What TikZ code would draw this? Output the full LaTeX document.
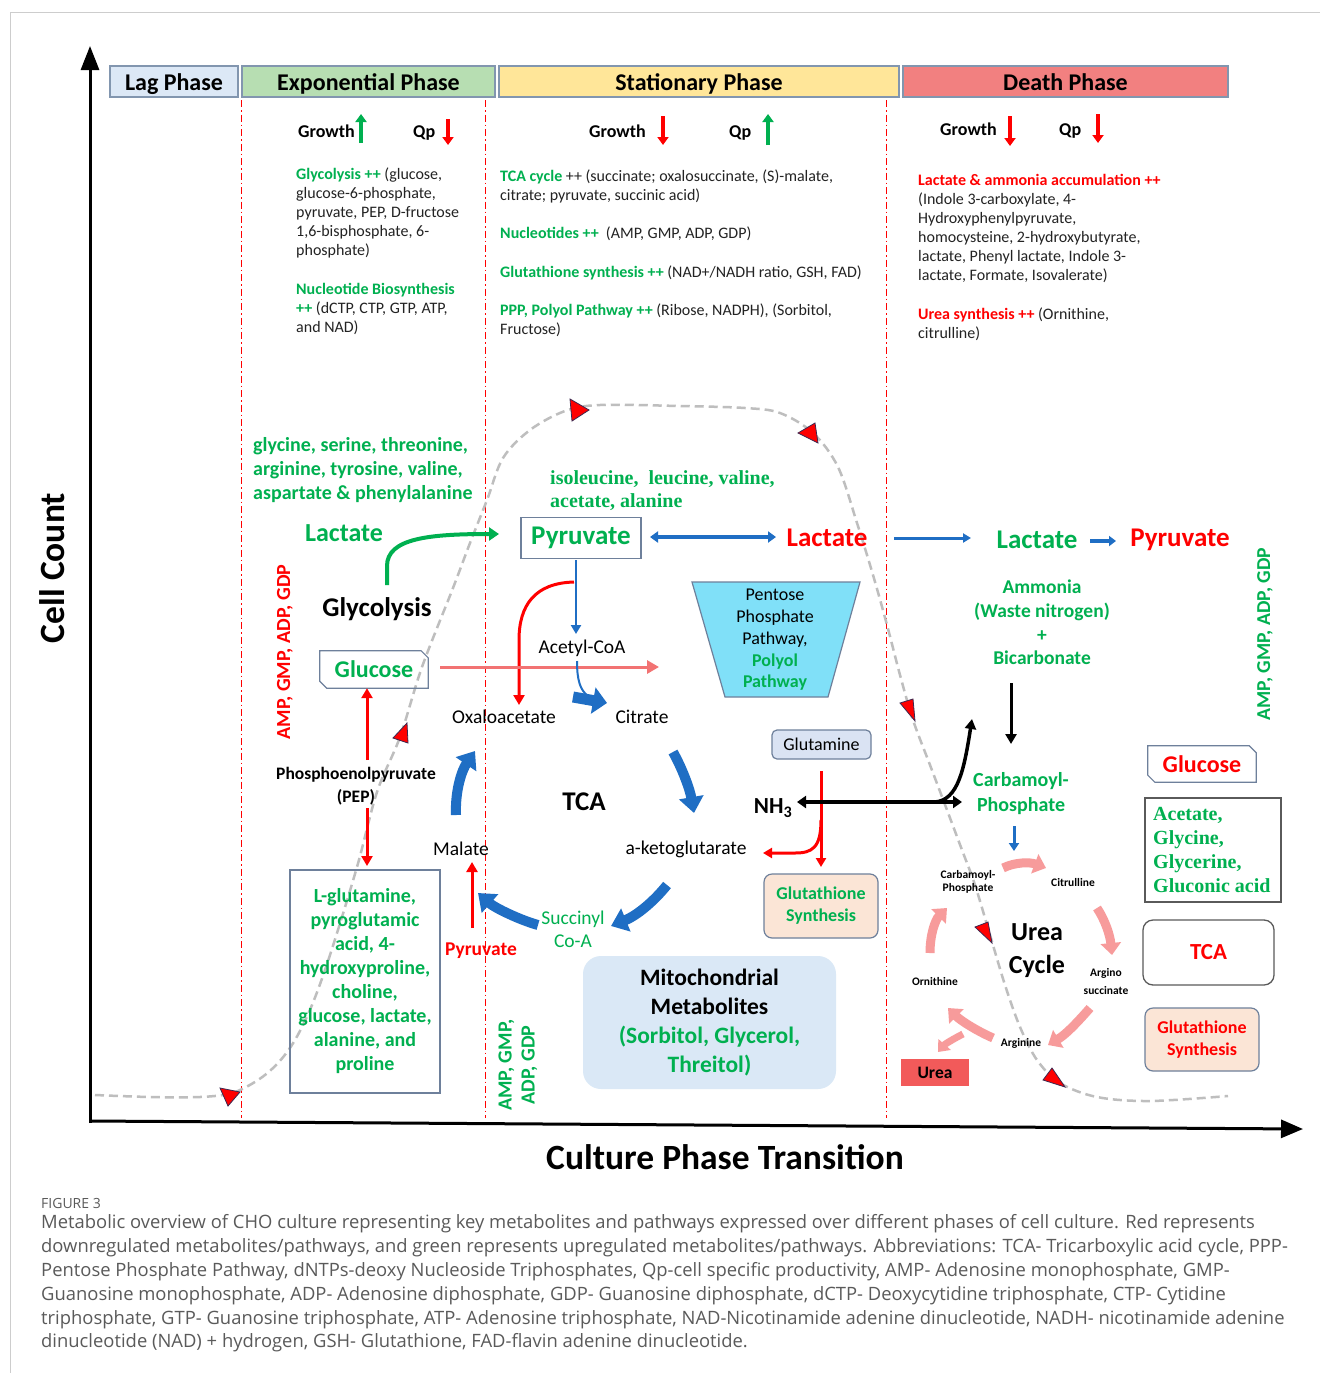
\documentclass[tikz,border=0pt]{standalone}
\usepackage{fontspec}
\setmainfont{Carlito}
\newfontfamily\capfont{Open Sans}
\newfontfamily\tmsfont{Liberation Serif}
\usetikzlibrary{arrows.meta,calc}
\definecolor{gr}{RGB}{0,176,80}
\definecolor{rd}{RGB}{255,0,0}
\definecolor{bl}{RGB}{31,110,196}
\definecolor{pk}{RGB}{247,155,155}
\definecolor{lrd}{RGB}{242,115,115}
\definecolor{dashc}{RGB}{190,190,190}
\definecolor{bbord}{RGB}{110,128,155}
\definecolor{hdrb}{RGB}{130,150,175}
\definecolor{lagc}{RGB}{220,232,246}
\definecolor{expc}{RGB}{183,222,178}
\definecolor{statc}{RGB}{255,230,153}
\definecolor{deathc}{RGB}{242,128,128}
\definecolor{peach}{RGB}{251,229,214}
\definecolor{mitoc}{RGB}{218,232,246}
\definecolor{pppc}{RGB}{128,224,248}
\definecolor{glutc}{RGB}{218,227,243}
\definecolor{ureac}{RGB}{242,90,90}
\definecolor{capc}{RGB}{90,90,90}
\definecolor{bodyc}{RGB}{35,35,35}
\definecolor{dg}{RGB}{90,90,90}
\definecolor{framec}{RGB}{205,205,205}
\definecolor{markb}{RGB}{60,40,80}
\newcommand{\fsz}[1]{\fontsize{#1}{#1}\selectfont}
\begin{document}
\begin{tikzpicture}[x=1pt,y=-1pt,
  txl/.style={inner sep=0pt,anchor=base west},
  txc/.style={inner sep=0pt,align=center},
  body/.style={txl,font=\fsz{16},text=bodyc},
  hdr/.style={draw=hdrb,line width=1.2pt,inner sep=0pt,minimum height=31pt,text height=19pt,text depth=2pt,font=\bfseries\fsz{24}},
  gro/.style={txl,font=\bfseries\fsz{18}},
  upg/.style={gr,line width=4pt,-{Triangle[length=8pt,width=11pt]}},
  dnr/.style={rd,line width=4pt,-{Triangle[length=8pt,width=11pt]}},
  phaseline/.style={rd,line width=1pt,dash pattern=on 7pt off 3pt on 1.5pt off 3pt},
  tcaarr/.style={bl,line width=10pt,-{Triangle[length=16pt,width=24pt]}},
  ucarr/.style={pk,line width=9pt,-{Triangle[length=12pt,width=20pt]}},
  redarr/.style={rd,line width=3pt,-{Triangle[length=10pt,width=11pt]}},
  mrk/.style={fill=rd,draw=markb,line width=0.8pt},
  boxb/.style={draw=bbord,line width=1.2pt},
  capt/.style={txl,font=\capfont\fsz{18.4},text=capc}
]
\useasboundingbox (0,0) rectangle (1320,1373);
\fill[white] (0,0) rectangle (1320,1373);
\draw[framec,line width=1pt] (10,1373) -- (10,12) -- (1320,12);

% phase headers
\node[hdr,fill=lagc,minimum width=128pt] (lag) at (174,81.5) {Lag Phase};
\node[hdr,fill=expc,minimum width=253pt] (expo) at (368.5,81.5) {Exponential Phase};
\node[hdr,fill=statc,minimum width=400pt] (stat) at (699,81.5) {Stationary Phase};
\node[hdr,fill=deathc,minimum width=325pt] (death) at (1065.5,81.5) {Death Phase};

% phase separators
\draw[phaseline] (241,100) -- (241,1118);
\draw[phaseline] (485,100) -- (485,1118);
\draw[phaseline] (886,100) -- (886,1118);

% growth curve
\draw[dashc,line width=2.5pt,dash pattern=on 9pt off 5pt] plot[smooth,tension=0.55] coordinates {(95,1095) (150,1097) (200,1097) (232,1093) (258,1080) (278,1063) (295,1040) (312,1005) (330,955) (357,867) (377,792) (400,737) (422,667) (453,588) (470,543) (487,500) (503,458) (530,430) (565,411) (600,405) (680,406) (745,408) (780,413) (813,433) (838,467) (857,523) (873,575) (887,625) (900,675) (913,720) (930,765) (947,810) (962,850) (975,885) (990,935) (1005,985) (1020,1027) (1037,1060) (1060,1083) (1097,1097) (1150,1101) (1228,1096)};

% growth / qp
\node[gro] (g1) at (298,137) {Growth};
\draw[upg] (361,143) -- (361,114);
\node[gro] (q1) at (413,137) {Qp};
\draw[dnr] (448,119) -- (448,145);
\node[gro] (g2) at (589,137) {Growth};
\draw[dnr] (663,116) -- (663,145);
\node[gro] (q2) at (729,137) {Qp};
\draw[upg] (768,145) -- (768,114);
\node[gro] (g3) at (940,135) {Growth};
\draw[dnr] (1010,116) -- (1010,146);
\node[gro] (q3) at (1059,135) {Qp};
\draw[dnr] (1098,114) -- (1098,143);

% exponential text
\node[body] (e1) at (296,179) {\textcolor{gr}{\bfseries Glycolysis ++} (glucose,};
\node[body] (e2) at (296,198) {glucose-6-phosphate,};
\node[body] (e3) at (296,217) {pyruvate, PEP, D-fructose};
\node[body] (e4) at (296,236) {1,6-bisphosphate, 6-};
\node[body] (e5) at (296,255) {phosphate)};
\node[body] (e6) at (296,294) {\textcolor{gr}{\bfseries Nucleotide Biosynthesis}};
\node[body] (e7) at (296,313) {\textcolor{gr}{\bfseries ++} (dCTP, CTP, GTP, ATP,};
\node[body] (e8) at (296,332) {and NAD)};

% stationary text
\node[body] (s1) at (500,181) {\textcolor{gr}{\bfseries TCA cycle} ++ (succinate; oxalosuccinate, (S)-malate,};
\node[body] (s2) at (500,200) {citrate; pyruvate, succinic acid)};
\node[body] (s3) at (500,238) {\textcolor{gr}{\bfseries Nucleotides ++}\ \ (AMP, GMP, ADP, GDP)};
\node[body] (s4) at (500,277) {\textcolor{gr}{\bfseries Glutathione synthesis ++} (NAD+/NADH ratio, GSH, FAD)};
\node[body] (s5) at (500,315) {\textcolor{gr}{\bfseries PPP, Polyol Pathway ++} (Ribose, NADPH), (Sorbitol,};
\node[body] (s6) at (500,334) {Fructose)};

% death text
\node[body] (d1) at (918,185) {\textcolor{rd}{\bfseries Lactate \& ammonia accumulation ++}};
\node[body] (d2) at (918,204) {(Indole 3-carboxylate, 4-};
\node[body] (d3) at (918,223) {Hydroxyphenylpyruvate,};
\node[body] (d4) at (918,242) {homocysteine, 2-hydroxybutyrate,};
\node[body] (d5) at (918,261) {lactate, Phenyl lactate, Indole 3-};
\node[body] (d6) at (918,280) {lactate, Formate, Isovalerate)};
\node[body] (d7) at (918,319) {\textcolor{rd}{\bfseries Urea synthesis ++} (Ornithine,};
\node[body] (d8) at (918,338) {citrulline)};

% left region
\node[txl,font=\bfseries\fsz{20},text=gr] (aa1) at (253,451) {glycine, serine, threonine,};
\node[txl,font=\bfseries\fsz{20},text=gr] (aa2) at (253,475) {arginine, tyrosine, valine,};
\node[txl,font=\bfseries\fsz{20},text=gr] (aa3) at (253,499) {aspartate \& phenylalanine};
\node[txc,font=\bfseries\fsz{26},text=gr] (lacL) at (344,533) {Lactate};
\node[txc,font=\bfseries\fsz{27}] (glyc) at (377,609) {Glycolysis};
\node[txc,font=\bfseries\fsz{24},text=gr,minimum width=108pt,minimum height=37pt] (glucL) at (374,669.5) {Glucose};
\draw[boxb] (glucL.north west) -- ([xshift=-7pt]glucL.north east) -- ([yshift=-7pt]glucL.north east) -- (glucL.south east) -- ([xshift=7pt]glucL.south west) -- ([yshift=7pt]glucL.south west) -- cycle;
\node[txc,font=\bfseries\fsz{17.5}] (pep) at (356,775) {Phosphoenolpyruvate};
\node[txc,font=\bfseries\fsz{17.5}] (pep2) at (356,797) {(PEP)};
\draw[redarr] (367,760) -- (glucL.south -| 367,0);
\draw[redarr] (367,808) -- (367,866);
\node[txc,rotate=90,font=\bfseries\fsz{20},text=rd] (nucL) at (285,652) {AMP, GMP, ADP, GDP};
\node[txc,boxb,minimum width=150pt,minimum height=223pt,font=\bfseries\fontsize{20}{24}\selectfont,text=gr] (lglu) at (365,981.5) {L-glutamine,\\pyroglutamic\\acid, 4-\\hydroxyproline,\\choline,\\glucose, lactate,\\alanine, and\\proline};

% pyruvate region
\node[txc,boxb,minimum width=120pt,minimum height=41pt,font=\bfseries\fsz{27},text=gr] (pyr) at (581,538) {Pyruvate};
\draw[gr,line width=4pt,-{Triangle[length=10pt,width=13pt]}] (387,585) -- (387,566) .. controls (387,538) and (430,534) .. (499,534);
\node[txl,font=\tmsfont\bfseries\fsz{20},text=gr] (bc1) at (550,484) {isoleucine,\ \ leucine, valine,};
\node[txl,font=\tmsfont\bfseries\fsz{20},text=gr] (bc2) at (550,507) {acetate, alanine};
\node[txc,font=\bfseries\fsz{27},text=rd] (lacM) at (827,538) {Lactate};
\draw[bl,line width=3.5pt,{Triangle[length=8pt,width=11pt]}-{Triangle[length=8pt,width=11pt]}] (650,537) -- (776,537);
\node[txc,font=\fsz{19.5}] (acoa) at (582,648) {Acetyl-CoA};
\draw[bl,line width=2.5pt,-{Triangle[length=9pt,width=10pt]}] (576,560) -- (576,634);
\draw[redarr] (574,582) .. controls (535,583) and (519,605) .. (519,640) -- (519,705);
\draw[lrd,line width=3pt,-{Triangle[length=12pt,width=13pt]}] (440,667) -- (659,667);
\draw[bl,line width=2pt] (577,661) .. controls (577,680) and (580,690) .. (588,696);
\draw[bl,line width=11pt,-{Triangle[length=14pt,width=26pt]}] (573,697) -- (607,703);
\node[txc,font=\fsz{19.5}] (oxa) at (504,717) {Oxaloacetate};
\node[txc,font=\fsz{19.5}] (cit) at (642,717) {Citrate};

% PPP
\draw[fill=pppc,draw=bbord,line width=1.2pt] (692,582) -- (860,582) -- (828,697) -- (725,697) -- cycle;
\node[txc,font=\fontsize{18}{21.75}\selectfont] (ppp) at (775,640) {Pentose\\Phosphate\\Pathway,\\\textcolor{gr}{\bfseries Polyol}\\\textcolor{gr}{\bfseries Pathway}};

% TCA
\node[txc,font=\bfseries\fsz{27}] (tca) at (584,802) {TCA};
\node[txc,font=\fsz{19.5}] (mal) at (461,849) {Malate};
\node[txc,font=\fsz{19.5}] (akg) at (686,849) {a-ketoglutarate};
\draw[tcaarr] (456,815) .. controls (455,790) and (462,770) .. (475,751);
\draw[tcaarr] (673,752) .. controls (683,770) and (690,790) .. (694,813);
\draw[tcaarr] (667,885) .. controls (655,900) and (638,915) .. (611,926);
\draw[tcaarr] (538,925) .. controls (520,920) and (495,908) .. (478,893);
\node[txc,font=\fsz{19.5},text=gr] (suc) at (573,919) {Succinyl};
\node[txc,font=\fsz{19.5},text=gr] (coa) at (573,941) {Co-A};
\node[txc,font=\bfseries\fsz{19.5},text=rd] (pyrS) at (481,951) {Pyruvate};
\draw[redarr] (472,928) -- (472,862);
\node[txc,rotate=90,font=\bfseries\fontsize{20}{23}\selectfont,text=gr] (nucS) at (518,1065) {AMP, GMP,\\ADP, GDP};
\node[txc,fill=mitoc,rounded corners=18pt,minimum width=253pt,minimum height=133pt,font=\bfseries\fontsize{23.5}{29}\selectfont] (mito) at (709.5,1022.5) {Mitochondrial\\Metabolites\\\textcolor{gr}{(Sorbitol, Glycerol,}\\\textcolor{gr}{Threitol)}};

% glutamine
\node[txc,boxb,fill=glutc,rounded corners=5pt,minimum width=99pt,minimum height=29pt,font=\fsz{18}] (glut) at (821.5,744.5) {Glutamine};
\node[txc,font=\bfseries\fsz{23}] (nh3) at (773,808) {NH\textsubscript{3}};
\draw[rd,line width=3pt,-{Triangle[length=9pt,width=10pt]}] (821,771) -- (821,867);
\draw[rd,line width=3pt,-{Triangle[length=9pt,width=10pt]}] (821,820) .. controls (821,848) and (812,853) .. (795,853) -- (763,853);
\node[txc,fill=peach,boxb,rounded corners=8pt,minimum width=114pt,minimum height=64pt,font=\bfseries\fontsize{18}{22}\selectfont,text=gr] (gsh1) at (821,906) {Glutathione\\Synthesis};
\draw[black,line width=4pt,{Triangle[length=9pt,width=12pt]}-{Triangle[length=9pt,width=12pt]}] (797,802) -- (962,802);
\draw[black,line width=3.5pt,-{Triangle[length=10pt,width=11pt]}] (935,802) .. controls (958,800) and (964,770) .. (972,719);

% right region
\draw[bl,line width=3pt,-{Triangle[length=8pt,width=9pt]}] (894,538) -- (971,538);
\node[txc,font=\bfseries\fsz{27},text=gr] (lacR) at (1037,540) {Lactate};
\draw[bl,line width=4pt,-{Triangle[length=7pt,width=10pt]}] (1090,541) -- (1116,541);
\node[txc,font=\bfseries\fsz{27},text=rd] (pyrR) at (1180,540) {Pyruvate};
\node[txc,font=\bfseries\fontsize{19.5}{23.7}\selectfont,text=gr] (amm) at (1042,622.5) {Ammonia\\(Waste nitrogen)\\+\\Bicarbonate};
\draw[black,line width=3pt,-{Triangle[length=10pt,width=11pt]}] (1011,683) -- (1011,744);
\node[txc,font=\bfseries\fontsize{20}{25}\selectfont,text=gr] (carb) at (1021,793.5) {Carbamoyl-\\Phosphate};
\draw[bl,line width=3pt,-{Triangle[length=8pt,width=10pt]}] (1014,826) -- (1014,851);
\node[txc,rotate=90,font=\bfseries\fsz{19.7},text=gr] (nucR) at (1265,634) {AMP, GMP, ADP, GDP};

% urea cycle
\draw[ucarr] (1003,868) .. controls (1015,862) and (1030,862) .. (1046,868);
\draw[ucarr] (1097,908) .. controls (1105,920) and (1110,935) .. (1112,955);
\draw[ucarr] (1090,1008) .. controls (1075,1025) and (1065,1035) .. (1048,1045);
\draw[ucarr] (993,1038) .. controls (975,1030) and (960,1020) .. (948,1008);
\draw[pk,line width=7pt,-{Triangle[length=10pt,width=16pt]}] (963,1034) .. controls (955,1038) and (945,1044) .. (938,1052);
\draw[ucarr] (930,953) .. controls (930,935) and (935,920) .. (947,908);
\node[txc,font=\bfseries\fontsize{11.5}{12.5}\selectfont] (uc1) at (968,882) {Carbamoyl-\\Phosphate};
\node[txc,font=\bfseries\fsz{11.5}] (uc2) at (1073,882) {Citrulline};
\node[txc,font=\bfseries\fontsize{11.5}{18}\selectfont] (uc3) at (1106,981) {Argino\\succinate};
\node[txc,font=\bfseries\fsz{11.5}] (uc4) at (1021,1043) {Arginine};
\node[txc,font=\bfseries\fsz{11.5}] (uc5) at (935,981) {Ornithine};
\node[txc,font=\bfseries\fontsize{26}{33}\selectfont] (ucyc) at (1037,950.5) {Urea\\Cycle};
\node[txc,fill=ureac,minimum width=68pt,minimum height=27pt,font=\bfseries\fsz{17.5}] (urea) at (935,1072.5) {Urea};

% right boxes
\node[txc,font=\bfseries\fsz{24},text=rd,minimum width=108pt,minimum height=36pt] (glucR) at (1202,764) {Glucose};
\draw[boxb] (glucR.north west) -- ([xshift=-7pt]glucR.north east) -- ([yshift=-7pt]glucR.north east) -- (glucR.south east) -- ([xshift=7pt]glucR.south west) -- ([yshift=7pt]glucR.south west) -- cycle;
\node[draw=dg,line width=1.3pt,minimum width=136pt,minimum height=104pt,inner sep=0pt] (acet) at (1213,850) {};
\node[inner sep=0pt,anchor=west,align=left,font=\tmsfont\bfseries\fontsize{20}{23.7}\selectfont,text=gr] (acett) at (1153,850) {Acetate,\\Glycine,\\Glycerine,\\Gluconic acid};
\node[txc,draw=dg,line width=1.3pt,rounded corners=10pt,minimum width=131pt,minimum height=65pt,font=\bfseries\fsz{23},text=rd] (tcaR) at (1208.5,952.5) {TCA};
\node[txc,fill=peach,boxb,rounded corners=8pt,minimum width=114pt,minimum height=63pt,font=\bfseries\fontsize{18}{22}\selectfont,text=rd] (gsh2) at (1202,1039.5) {Glutathione\\Synthesis};

% markers
\filldraw[mrk] (220,1088) -- (240,1092) -- (228,1106) -- cycle;
\filldraw[mrk] (393,738) -- (407,723) -- (408,743) -- cycle;
\filldraw[mrk] (570,399) -- (589,410) -- (572,421) -- cycle;
\filldraw[mrk] (798,433) -- (815,423) -- (818,443) -- cycle;
\filldraw[mrk] (900,703) -- (913,699) -- (915,721) -- cycle;
\filldraw[mrk] (975,927) -- (988,922) -- (992,943) -- cycle;
\filldraw[mrk] (1043,1080) -- (1052,1068) -- (1065,1087) -- cycle;

% axes
\draw[black,line width=3pt,-{Triangle[length=24pt,width=18pt]}] (90,1123) -- (90,46);
\draw[black,line width=3pt,-{Triangle[length=22pt,width=18pt]}] (90,1121) -- (1303,1129);
\node[txc,rotate=90,font=\bfseries\fsz{35.5}] (ylab) at (52,568) {Cell Count};
\node[txc,font=\bfseries\fsz{35.5}] (xlab) at (725,1157) {Culture Phase Transition};

% caption
\node[txl,font=\capfont\fsz{14},text=capc] (fig) at (41,1208) {FIGURE 3};
\node[capt] (c1) at (41,1228) {Metabolic overview of CHO culture representing key metabolites and pathways expressed over different phases of cell culture. Red represents};
\node[capt] (c2) at (41,1252) {downregulated metabolites/pathways, and green represents upregulated metabolites/pathways. Abbreviations: TCA- Tricarboxylic acid cycle, PPP-};
\node[capt] (c3) at (41,1276) {Pentose Phosphate Pathway, dNTPs-deoxy Nucleoside Triphosphates, Qp-cell specific productivity, AMP- Adenosine monophosphate, GMP-};
\node[capt] (c4) at (41,1300) {Guanosine monophosphate, ADP- Adenosine diphosphate, GDP- Guanosine diphosphate, dCTP- Deoxycytidine triphosphate, CTP- Cytidine};
\node[capt] (c5) at (41,1324) {triphosphate, GTP- Guanosine triphosphate, ATP- Adenosine triphosphate, NAD-Nicotinamide adenine dinucleotide, NADH- nicotinamide adenine};
\node[capt] (c6) at (41,1347) {dinucleotide (NAD) + hydrogen, GSH- Glutathione, FAD-flavin adenine dinucleotide.};
\end{tikzpicture}
\end{document}
